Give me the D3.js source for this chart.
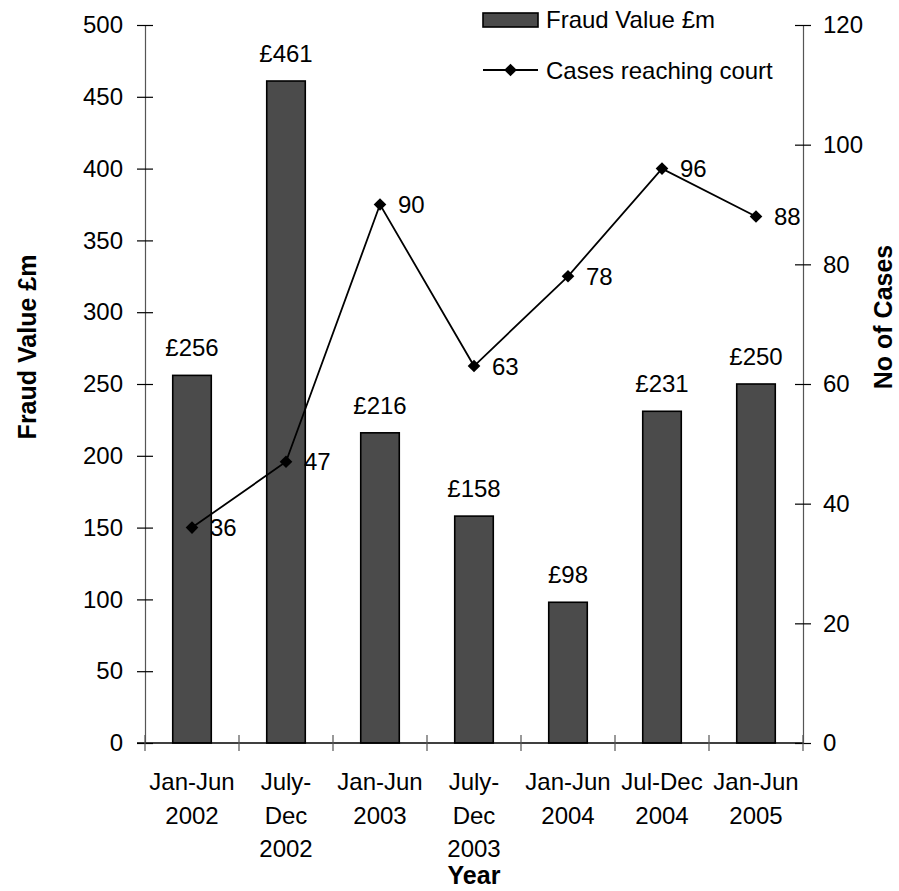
<!DOCTYPE html>
<html>
<head>
<meta charset="utf-8">
<script src="https://cdn.jsdelivr.net/npm/d3@7"></script>
<style>
  body { margin: 0; background: #fff; }
  svg text { font-family: "Liberation Sans", Arial, sans-serif; fill: #000; }
</style>
</head>
<body>
<svg id="chart" width="899" height="891"></svg>
<script>
// Half-year periods (line breaks as printed under the axis)
const periods = [
  "Jan-Jun\n2002",
  "July-\nDec\n2002",
  "Jan-Jun\n2003",
  "July-\nDec\n2003",
  "Jan-Jun\n2004",
  "Jul-Dec\n2004",
  "Jan-Jun\n2005"
];
// Fraud value, £ millions
const fraudValue = [256, 461, 216, 158, 98, 231, 250];
// Number of cases reaching court
const casesCourt = [36, 47, 90, 63, 78, 96, 88];
const leftTicks = [0, 50, 100, 150, 200, 250, 300, 350, 400, 450, 500];
const rightTicks = [0, 20, 40, 60, 80, 100, 120];

const svg = d3.select("#chart");
const plot = { left: 145, right: 803, top: 25, bottom: 743 };

const x = d3.scaleBand().domain(periods).range([plot.left, plot.right]).padding(0);
const yL = d3.scaleLinear().domain([0, 500]).range([plot.bottom, plot.top]);
const yR = d3.scaleLinear().domain([0, 120]).range([plot.bottom, plot.top]);

// Bars
const barW = x.bandwidth() * 0.41;
svg.append("g").selectAll("rect").data(fraudValue).join("rect")
  .attr("x", (d, i) => x(periods[i]) + (x.bandwidth() - barW) / 2)
  .attr("y", d => yL(d))
  .attr("width", barW)
  .attr("height", d => yL(0) - yL(d))
  .attr("fill", "#4b4b4b")
  .attr("stroke", "#000")
  .attr("stroke-width", 1.6);

// Bar value labels
svg.append("g").selectAll("text").data(fraudValue).join("text")
  .attr("x", (d, i) => x(periods[i]) + x.bandwidth() / 2)
  .attr("y", d => yL(d) - 19)
  .attr("text-anchor", "middle")
  .attr("font-size", 24)
  .text(d => "£" + d);

// Left axis
const axL = svg.append("g").attr("transform", `translate(${plot.left},0)`)
  .call(d3.axisLeft(yL).tickValues(leftTicks).tickSizeInner(8).tickSizeOuter(0).tickPadding(14));
axL.selectAll(".tick line").attr("x2", 8).attr("x1", -8);
// Right axis
const axR = svg.append("g").attr("transform", `translate(${plot.right},0)`)
  .call(d3.axisRight(yR).tickValues(rightTicks).tickSizeInner(8).tickSizeOuter(0).tickPadding(12));
axR.selectAll(".tick line").attr("x1", -8).attr("x2", 8);
[axL, axR].forEach(a => {
  a.select(".domain").attr("stroke", "#555").attr("stroke-width", 1.2);
  a.selectAll(".tick line").attr("stroke", "#000").attr("stroke-width", 1.2);
  a.selectAll("text").attr("font-size", 24).attr("font-family", "Liberation Sans, Arial, sans-serif").attr("fill", "#000");
});

// Bottom axis: category boundary ticks
const boundaries = periods.map(p => x(p)).concat([plot.right]);
svg.append("line")
  .attr("x1", plot.left - 8).attr("x2", plot.right)
  .attr("y1", plot.bottom).attr("y2", plot.bottom)
  .attr("stroke", "#000").attr("stroke-width", 1.5);
svg.append("g").selectAll("line").data(boundaries).join("line")
  .attr("x1", d => Math.round(d)).attr("x2", d => Math.round(d))
  .attr("y1", plot.bottom - 8).attr("y2", plot.bottom + 8)
  .attr("stroke", "#555").attr("stroke-width", 1.2);

// Category labels
const catG = svg.append("g").selectAll("text").data(periods).join("text")
  .attr("x", p => x(p) + x.bandwidth() / 2)
  .attr("y", 790)
  .attr("text-anchor", "middle")
  .attr("font-size", 24);
catG.selectAll("tspan").data(p => p.split("\n")).join("tspan")
  .attr("x", function () { return this.parentNode.getAttribute("x"); })
  .attr("dy", (d, i) => i === 0 ? 0 : 33.5)
  .text(d => d);

// Cases line with diamond markers
const cx = i => x(periods[i]) + x.bandwidth() / 2;
svg.append("path")
  .datum(casesCourt)
  .attr("d", d3.line().x((d, i) => cx(i)).y(d => yR(d)))
  .attr("fill", "none")
  .attr("stroke", "#000")
  .attr("stroke-width", 1.8);
svg.append("g").selectAll("path").data(casesCourt).join("path")
  .attr("transform", (d, i) => `translate(${cx(i)},${yR(d)}) rotate(45)`)
  .attr("d", d3.symbol().type(d3.symbolSquare).size(80))
  .attr("fill", "#000");
svg.append("g").selectAll("text").data(casesCourt).join("text")
  .attr("x", (d, i) => cx(i) + 18)
  .attr("y", d => yR(d))
  .attr("dy", "0.36em")
  .attr("font-size", 24)
  .text(d => d);

// Axis titles
svg.append("text")
  .attr("transform", "translate(36,347) rotate(-90)")
  .attr("text-anchor", "middle")
  .attr("font-size", 25).attr("font-weight", "bold")
  .text("Fraud Value £m");
svg.append("text")
  .attr("transform", "translate(892,317) rotate(-90)")
  .attr("text-anchor", "middle")
  .attr("font-size", 25).attr("font-weight", "bold")
  .text("No of Cases");
svg.append("text")
  .attr("x", 474).attr("y", 884)
  .attr("text-anchor", "middle")
  .attr("font-size", 25).attr("font-weight", "bold")
  .text("Year");

// Legend
const lg = svg.append("g");
lg.append("rect").attr("x", 483).attr("y", 13).attr("width", 55).attr("height", 14)
  .attr("fill", "#4b4b4b").attr("stroke", "#000").attr("stroke-width", 1.6);
lg.append("text").attr("x", 546).attr("y", 28).attr("font-size", 24).text("Fraud Value £m");
lg.append("line").attr("x1", 483).attr("x2", 538).attr("y1", 70).attr("y2", 70)
  .attr("stroke", "#000").attr("stroke-width", 1.8);
lg.append("path").attr("transform", "translate(510.5,70) rotate(45)")
  .attr("d", d3.symbol().type(d3.symbolSquare).size(80)).attr("fill", "#000");
lg.append("text").attr("x", 546).attr("y", 79).attr("font-size", 24).text("Cases reaching court");
</script>
</body>
</html>
